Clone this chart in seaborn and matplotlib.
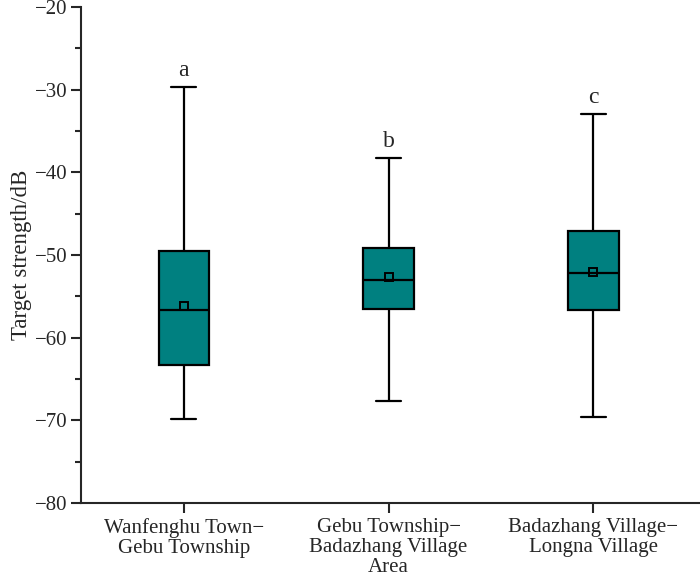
import numpy as np
import pandas as pd
import matplotlib
matplotlib.use("Agg")
import matplotlib.pyplot as plt
import seaborn as sns
from matplotlib.ticker import MultipleLocator

# five-number summary (dB)
routes = ["Wanfenghu Town−\nGebu Township",
          "Gebu Township−\nBadazhang Village\nArea",
          "Badazhang Village−\nLongna Village"]
lower = [-69.8, -67.7, -69.6]
q1 = [-63.3, -56.5, -56.7]
median = [-56.7, -53.0, -52.2]
q3 = [-49.5, -49.1, -47.1]
upper = [-29.7, -38.3, -33.0]
means = [-56.2, -52.7, -52.0]
letters = ["a", "b", "c"]

rows = []
for i, r in enumerate(routes):
    for v in (lower[i], q1[i], median[i], q3[i], upper[i]):
        rows.append({"route": r, "ts": v})
df = pd.DataFrame(rows)
df_mean = pd.DataFrame({"route": routes, "ts": means})

sns.set_theme(style="ticks")
plt.rcParams["font.family"] = ["Liberation Serif", "DejaVu Serif"]

fig = plt.figure(figsize=(7, 5.79), dpi=100)
ax = fig.add_axes([0.116, 0.131, 0.884, 0.857])

sns.boxplot(data=df, x="route", y="ts", whis=(0, 100), width=0.245,
            color="#008080", saturation=1, linecolor="black", linewidth=1.6,
            ax=ax)
sns.pointplot(data=df_mean, x="route", y="ts", errorbar=None, linestyle="none",
              markers="s", color="black", markersize=5.2,
              markerfacecolor="#008080", markeredgecolor="black",
              markeredgewidth=1.4, ax=ax)

for i, lab in enumerate(letters):
    ax.annotate(lab, (i, upper[i]), xytext=(0, 8), textcoords="offset points",
                ha="center", va="baseline", fontsize=17)

ax.set_xlim(-0.5, 2.52)
ax.set_ylim(-80, -20)
ax.yaxis.set_major_locator(MultipleLocator(10))
ax.yaxis.set_minor_locator(MultipleLocator(5))
ax.tick_params(axis="y", which="major", length=7, width=1.5, labelsize=15,
               pad=3)
ax.tick_params(axis="y", which="minor", length=4, width=1.5)
ax.tick_params(axis="x", length=7, width=1.5, labelsize=15, pad=4)
for lbl in ax.get_xticklabels():
    lbl.set_linespacing(1.05)
ax.set_xlabel("")
ax.set_ylabel("Target strength/dB", fontsize=16.5, labelpad=2)
sns.despine(ax=ax)
for s in ("left", "bottom"):
    ax.spines[s].set_linewidth(1.5)

fig.savefig("out.png", dpi=100)
